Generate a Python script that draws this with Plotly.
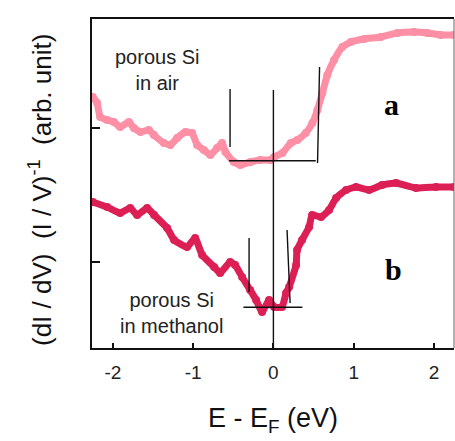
import plotly.graph_objects as go

# ---- data (energy in eV, conductance in arbitrary units) ----
air_x = [-2.25, -2.196, -2.158, -2.071, -1.988, -1.909, -1.801, -1.738, -1.656, -1.552,
         -1.489, -1.365, -1.283, -1.199, -1.096, -1.012, -0.950, -0.867, -0.785, -0.701,
         -0.639, -0.598, -0.493, -0.411, -0.286, -0.162, -0.037, 0.009, 0.112, 0.217,
         0.299, 0.403, 0.486, 0.548, 0.610, 0.672, 0.756, 0.859, 0.964, 1.130,
         1.337, 1.544, 1.752, 1.918, 2.085, 2.25]
air_y = [251, 245, 231, 228, 226, 221, 226, 220, 216, 218,
         213, 205, 203, 210, 216, 215, 203, 198, 193, 200,
         205, 196, 186, 183, 186, 188, 188, 191, 195, 205,
         208, 215, 225, 238, 255, 273, 288, 301, 306, 309,
         311, 315, 316, 315, 313, 313]

meth_x = [-2.25, -2.071, -1.909, -1.784, -1.697, -1.573, -1.486, -1.324, -1.237, -1.075,
          -0.975, -0.888, -0.738, -0.664, -0.539, -0.477, -0.390, -0.290, -0.215, -0.141,
          -0.054, 0.009, 0.108, 0.158, 0.196, 0.283, 0.295, 0.357, 0.445, 0.482,
          0.594, 0.694, 0.781, 0.905, 1.030, 1.192, 1.354, 1.528, 1.777, 2.026, 2.25]
meth_y = [146, 141, 135, 140, 133, 140, 133, 120, 108, 101,
          110, 93, 81, 75, 86, 83, 71, 58, 48, 36,
          48, 41, 41, 55, 61, 83, 98, 108, 121, 133,
          131, 138, 150, 158, 161, 158, 163, 165, 160, 161, 161]

# gap-marker guide lines (x pairs, y pairs)
zero_x = [0, 0]
zero_y = [258, 0]
a_left_x = [-0.54, -0.54]
a_left_y = [259, 201]
a_right_x = [0.575, 0.55]
a_right_y = [281, 185]
a_base_x = [-0.552, 0.528]
a_base_y = [187.3, 187.3]
b_left_x = [-0.303, -0.303]
b_left_y = [110, 56]
b_right_x = [0.17, 0.208]
b_right_y = [118, 45]
b_base_x = [-0.374, 0.361]
b_base_y = [40.7, 40.7]

x_ticks = [-2, -1, 0, 1, 2]
y_ticks = [86, 220]

col_air = "#ff8fa5"
col_meth = "#dc1f55"

fig = go.Figure()
fig.add_trace(go.Scatter(x=air_x, y=air_y, mode="lines+markers",
                         line=dict(color=col_air, width=7, shape="spline", smoothing=0.4),
                         marker=dict(color=col_air, size=8), hoverinfo="skip"))
fig.add_trace(go.Scatter(x=meth_x, y=meth_y, mode="lines+markers",
                         line=dict(color=col_meth, width=7, shape="spline", smoothing=0.4),
                         marker=dict(color=col_meth, size=8), hoverinfo="skip"))

for gx, gy in [(zero_x, zero_y), (a_left_x, a_left_y), (a_right_x, a_right_y),
               (a_base_x, a_base_y), (b_left_x, b_left_y), (b_right_x, b_right_y),
               (b_base_x, b_base_y)]:
    fig.add_trace(go.Scatter(x=gx, y=gy, mode="lines",
                             line=dict(color="#111111", width=1.4), hoverinfo="skip"))

sans = "Liberation Sans, Arial, sans-serif"
serif = "Liberation Serif, Times New Roman, serif"

L, R, T, B = 92, 1, 19, 93
W, H = 455, 441
pw, ph = W - L - R, H - T - B


def px_to_paper(px, py):
    return (px - L) / pw, ((H - py) - B) / ph


xt_x, xt_y = px_to_paper(273, 420)
yt_x, yt_y = px_to_paper(40, 190)

fig.update_layout(
    width=W, height=H,
    margin=dict(l=L, r=R, t=T, b=B),
    paper_bgcolor="white", plot_bgcolor="white",
    showlegend=False,
    xaxis=dict(range=[-2.26, 2.25], tickvals=x_ticks, ticktext=[str(v) for v in x_ticks],
               ticks="inside", ticklen=5, tickwidth=1.5, tickcolor="#111",
               showline=True, linecolor="#111", linewidth=2.2, mirror=True,
               showgrid=False, zeroline=False,
               tickfont=dict(family=sans, size=19, color="#222"),
               ticklabelstandoff=6),
    yaxis=dict(range=[0, 329], tickvals=y_ticks, showticklabels=False,
               ticks="inside", ticklen=8, tickwidth=1.5, tickcolor="#111",
               showline=True, linecolor="#111", linewidth=2,
               showgrid=False, zeroline=False),
    shapes=[dict(type="line", xref="paper", yref="paper", x0=1, x1=1, y0=0, y1=1,
                 line=dict(color="#666", width=1))],
    annotations=[
        dict(text="porous Si<br>in air", x=-1.449, y=278, xref="x", yref="y",
             showarrow=False, font=dict(family=sans, size=20, color="#222")),
        dict(text="porous Si<br>in methanol", x=-1.274, y=35, xref="x", yref="y",
             showarrow=False, font=dict(family=sans, size=20, color="#222")),
        dict(text="<b>a</b>", x=1.477, y=244, xref="x", yref="y", showarrow=False,
             font=dict(family=serif, size=30, color="#000")),
        dict(text="<b>b</b>", x=1.49, y=79, xref="x", yref="y", showarrow=False,
             font=dict(family=serif, size=30, color="#000")),
        dict(text="E - E<sub>F</sub> (eV)", x=xt_x, y=xt_y, xref="paper", yref="paper",
             xanchor="center", yanchor="middle",
             showarrow=False, font=dict(family=sans, size=27, color="#111")),
        dict(text="(dI / dV)&nbsp;&nbsp;(I / V)<sup>-1</sup>&nbsp;&nbsp;(arb. unit)",
             x=yt_x, y=yt_y, xref="paper", yref="paper",
             xanchor="center", yanchor="middle", textangle=-90, showarrow=False,
             font=dict(family=sans, size=26, color="#111")),
    ],
)

fig.write_html("out.html")
